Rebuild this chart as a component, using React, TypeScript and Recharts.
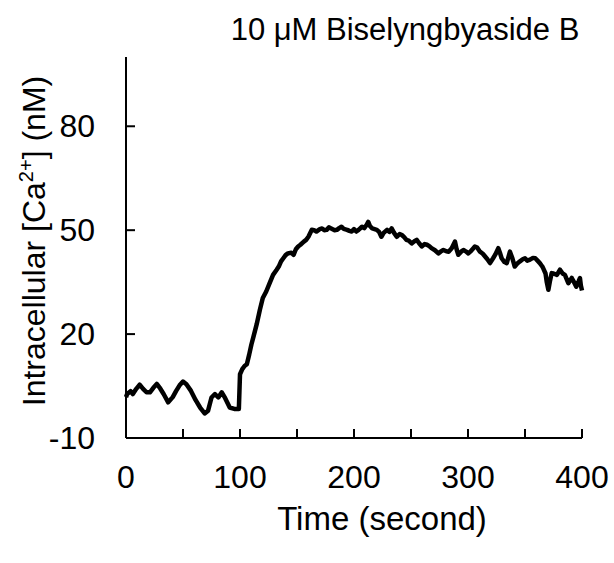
import React from "react";
import { LineChart, Line, XAxis, YAxis, Label } from "recharts";

// time (s) and intracellular Ca2+ (nM)
const TIME = [
  0, 1, 4, 6, 9, 12, 15, 18, 21, 24, 27, 30, 33, 37, 41, 44, 47, 50, 53, 57,
  61, 65, 69, 72, 75, 78, 81, 84, 87, 91, 95, 99,
  100, 102, 104, 106, 108, 110, 112, 114.6, 117.5, 120, 123, 126, 129, 132,
  134, 136, 138, 140, 142, 145, 147, 149, 151, 153, 156, 158, 160, 163, 165,
  167, 170, 172, 174, 176, 178, 180, 183, 185, 187, 189, 191, 194, 196, 198,
  200, 202, 204, 207, 209, 211, 212.5, 214, 216, 218, 220, 222, 224, 226, 229,
  231, 233, 235, 237.5, 240, 242, 244, 246, 248, 250.6, 253, 255, 257, 259.4,
  262, 264, 266, 268, 271, 274, 276, 278.4, 281, 283, 285.7, 288.6, 290, 291.5,
  294, 296, 298, 300.3, 302, 304.7, 306, 308, 310.5, 313, 315, 317, 319.3, 322,
  324, 326.6, 328, 329.5, 332, 334, 336.8, 339, 341, 343, 345.6, 348, 350, 352,
  354.4, 357, 359, 361, 363, 365, 366, 368, 369, 370.5, 372, 373.4, 375, 378,
  380.7, 383, 385, 387, 388, 391, 393, 395, 397, 398.2, 399, 400,
];
const CA = [
  1.8, 2.7, 3.5, 2.7, 4.2, 5.4, 4.2, 3.2, 3.2, 4.5, 5.6, 4.3, 2.7, 0.3, 1.8,
  3.6, 5.2, 6.3, 5.5, 3.6, 1.0, -1.2, -2.9, -2.1, 1.7, 2.7, 1.7, 3.2, 1.5,
  -1.2, -1.6, -1.6,
  8.4, 9.9, 10.8, 11.3, 14, 17, 19.5, 22.8, 27.1, 30.4, 32.3, 34.7, 37.1, 38.5,
  39.5, 41, 41.9, 42.8, 43.3, 43.5, 42.9, 44.5, 45.3, 45.8, 46.7, 47.2, 48.1,
  50.1, 50.0, 49.6, 50.3, 50.5, 50.0, 50.1, 50.8, 50.5, 50.0, 50.1, 50.6, 51.0,
  50.4, 50.1, 49.8, 49.6, 50.3, 49.6, 50.1, 51.0, 50.6, 51.5, 52.4, 51.2, 50.5,
  50.3, 50.1, 49.5, 48.1, 49.2, 50.1, 49.5, 50.5, 49.3, 48.1, 48.9, 48.6, 48.0,
  47.2, 47.0, 46.2, 46.8, 47.2, 46.3, 45.3, 46.0, 45.8, 45.4, 44.8, 44.2, 43.3,
  43.8, 44.3, 43.9, 43.8, 44.8, 46.7, 44.5, 42.9, 43.8, 44.3, 43.9, 43.3, 43.8,
  44.8, 45.3, 45.0, 43.8, 43.2, 42.4, 41.6, 40.5, 41.9, 43.0, 44.8, 43.5, 41.9,
  40.8, 40.5, 43.8, 41.8, 39.5, 40.3, 41.0, 41.6, 41.9, 41.2, 41.5, 42.0, 41.9,
  41.2, 40.5, 39.6, 39.0, 37.5, 35.2, 32.8, 35.5, 37.6, 37.5, 37.1, 38.6, 37.5,
  37.1, 35.5, 34.7, 36.2, 35.0, 33.7, 35.2, 36.2, 34.0, 32.6,
];

const X_TICKS = [0, 50, 100, 150, 200, 250, 300, 350, 400];
const Y_TICKS = [-10, 20, 50, 80];

const data = TIME.map((t, i) => ({ t, ca: CA[i] }));

const FONT = "Arial, 'Liberation Sans', sans-serif";

function XTick({ x, y, payload }: any) {
  const v = payload.value;
  return (
    <g>
      <line x1={x} y1={y} x2={x} y2={y - 9} stroke="#000" strokeWidth={2} />
      {v % 100 === 0 && (
        <text x={x} y={y + 50} textAnchor="middle" fontSize={32} fontFamily={FONT} fill="#000">
          {v}
        </text>
      )}
    </g>
  );
}

function YTick({ x, y, payload }: any) {
  const v = payload.value;
  return (
    <g>
      {v !== -10 && <line x1={x} y1={y} x2={x + 9} y2={y} stroke="#000" strokeWidth={2} />}
      <text x={95} y={y + 11} textAnchor="end" fontSize={32} fontFamily={FONT} fill="#000">
        {v}
      </text>
    </g>
  );
}

export default function App() {
  return (
    <div style={{ position: "absolute", left: 0, top: 0, background: "#fff" }}>
      <LineChart width={614} height={563} data={data} margin={{ top: 57, right: 32, left: 0, bottom: 0 }}>
        <XAxis
          dataKey="t"
          type="number"
          domain={[0, 400]}
          ticks={X_TICKS}
          interval={0}
          height={125}
          tickSize={0}
          tickMargin={0}
          tickLine={false}
          axisLine={{ stroke: "#000", strokeWidth: 2 }}
          tick={<XTick />}
        >
          <Label
            content={() => (
              <text x={382} y={530} textAnchor="middle" fontSize={33} fontFamily={FONT} fill="#000">
                Time (second)
              </text>
            )}
          />
        </XAxis>
        <YAxis
          type="number"
          domain={[-10, 100]}
          ticks={Y_TICKS}
          interval={0}
          width={126}
          tickSize={0}
          tickMargin={0}
          tickLine={false}
          axisLine={{ stroke: "#000", strokeWidth: 2 }}
          tick={<YTick />}
        >
          <Label
            content={() => (
              <g>
                <text
                  transform="translate(45,241) rotate(-90)"
                  textAnchor="middle"
                  fontSize={32}
                  fontFamily={FONT}
                  fill="#000"
                >
                  Intracellular [Ca
                  <tspan fontSize={20} dy={-12}>2+</tspan>
                  <tspan dy={12}>] (nM)</tspan>
                </text>
                <text x={405} y={40} textAnchor="middle" fontSize={31} fontFamily={FONT} fill="#000">
                  10 μM Biselyngbyaside B
                </text>
              </g>
            )}
          />
        </YAxis>
        <Line
          dataKey="ca"
          type="linear"
          stroke="#000"
          strokeWidth={4.5}
          strokeLinejoin="round"
          dot={false}
          isAnimationActive={false}
        />
      </LineChart>
    </div>
  );
}
